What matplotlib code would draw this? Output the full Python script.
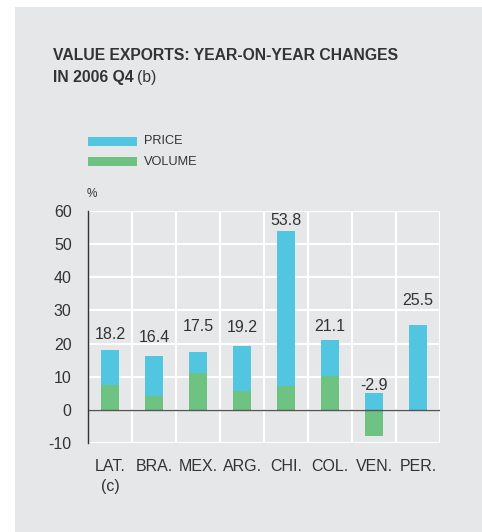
import matplotlib
matplotlib.use("Agg")
import matplotlib.pyplot as plt
from matplotlib.patches import Rectangle
import numpy as np

categories = ["LAT.\n(c)", "BRA.", "MEX.", "ARG.", "CHI.", "COL.", "VEN.", "PER."]
volume = [7.5, 4.3, 11.2, 5.8, 7.3, 10.3, -7.9, 0.0]
price = [10.7, 12.1, 6.3, 13.4, 46.5, 10.8, 5.0, 25.5]
totals = ["18.2", "16.4", "17.5", "19.2", "53.8", "21.1", "-2.9", "25.5"]
label_y = [22.6, 21.8, 25.1, 24.8, 57.0, 25.1, 7.5, 33.1]
yticks = [-10, 0, 10, 20, 30, 40, 50, 60]

BG = "#E6E7E8"
TXT = "#333333"
PRICE_C = "#52C5E0"
VOL_C = "#6EC282"

plt.rcParams['font.family'] = ['Liberation Sans', 'DejaVu Sans']

fig = plt.figure(figsize=(4.82, 5.32), dpi=100)
fig.patch.set_facecolor("white")
fig.patches.append(Rectangle((15/482, 0), 1 - 15/482, 1 - 7/532, transform=fig.transFigure,
                             facecolor=BG, edgecolor="none", zorder=-10))

ax = fig.add_axes([88.3/482, 1 - 443.3/532, 351.7/482, 232.6/532])
ax.set_facecolor(BG)

x = np.arange(len(categories))
w = 0.41
vol = np.array(volume)
pr = np.array(price)
pos_base = np.where(vol > 0, vol, 0)
ax.bar(x, vol, w, color=VOL_C, zorder=3)
ax.bar(x, pr, w, bottom=pos_base, color=PRICE_C, zorder=3)

for xi, t, yy in zip(x, totals, label_y):
    ax.text(xi, yy, t, ha="center", va="center", fontsize=11.5, color=TXT, zorder=4)

ax.set_xlim(-0.5, len(categories) - 0.5)
ax.set_ylim(-10, 60)
ax.set_yticks(yticks)
ax.set_yticklabels([str(v) for v in yticks], fontsize=11.5, color=TXT)
ax.set_xticks(x)
ax.set_xticklabels(categories, fontsize=11.5, color=TXT, linespacing=1.45, va="top")
ax.tick_params(axis="both", length=0)
ax.tick_params(axis="x", pad=11)
ax.tick_params(axis="y", pad=12)
for yv in yticks:
    ax.axhline(yv, color="white", lw=1.5, zorder=1)
for xv in np.arange(0.5, len(categories), 1):
    ax.axvline(xv, color="white", lw=1.5, zorder=1)
ax.axhline(0, color="#555555", lw=1, zorder=5)
for s in ["top", "right", "bottom"]:
    ax.spines[s].set_visible(False)
ax.spines["left"].set_color(TXT)
ax.spines["left"].set_linewidth(1)
ax.spines["left"].set_zorder(6)

# title
fig.text(52.7/482, 1 - 60/532, "VALUE EXPORTS: YEAR-ON-YEAR CHANGES", fontsize=11.3,
         fontweight="bold", color=TXT, ha="left", va="baseline")
t2 = fig.text(52.7/482, 1 - 81.7/532, "IN 2006 Q4", fontsize=11.3,
              fontweight="bold", color=TXT, ha="left", va="baseline")
fig.canvas.draw()
bb = t2.get_window_extent()
fig.text((bb.x1 + 4)/482, 1 - 81.7/532, "(b)", fontsize=11.3, color=TXT, ha="left", va="baseline")

# legend
for yc, lab, c in [(141.3, "PRICE", PRICE_C), (161.7, "VOLUME", VOL_C)]:
    fig.patches.append(Rectangle((88/482, 1 - (yc + 4.5)/532), 49/482, 9/532,
                                 transform=fig.transFigure, facecolor=c, edgecolor="none"))
    fig.text(144/482, 1 - yc/532, lab, fontsize=9.2, color=TXT, ha="left", va="center")

fig.text(86.7/482, 1 - 194/532, "%", fontsize=8.5, color=TXT, ha="left", va="center")

fig.savefig("out.png", dpi=100, facecolor=fig.get_facecolor())
